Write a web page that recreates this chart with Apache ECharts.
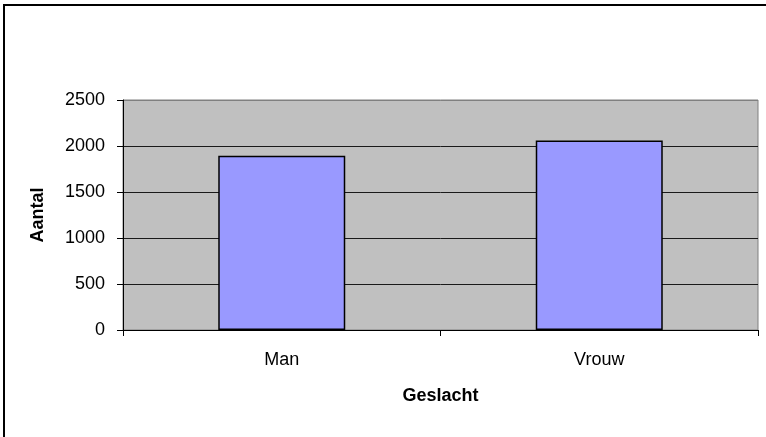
<!DOCTYPE html>
<html>
<head>
<meta charset="utf-8">
<script src="https://cdn.jsdelivr.net/npm/echarts@6/dist/echarts.min.js"></script>
<style>
  html, body { margin: 0; padding: 0; background: #fff; }
  #chart { width: 766px; height: 437px; }
</style>
</head>
<body>
<div id="chart"></div>
<script>
// gegevens
var categories = ["Man", "Vrouw"];
var aantallen = [1895, 2060];
var yTicks = [0, 500, 1000, 1500, 2000, 2500];

var myChart = echarts.init(document.getElementById("chart"));
var font = "'Liberation Sans', Arial, sans-serif";

// splitlines: donker, behalve de bovenste (rand van plotgebied)
var splitColors = yTicks.map(function (v, i) {
  return i === yTicks.length - 1 ? "#808080" : "#1a1a1a";
});

var option = {
  backgroundColor: "#fff",
  animation: false,
  graphic: [
    {
      type: "rect",
      shape: { x: 4, y: 5, width: 800, height: 500 },
      style: { fill: "none", stroke: "#000", lineWidth: 2 },
      z: 100
    }
  ],
  grid: {
    show: true,
    left: 123,
    right: 8,
    top: 100,
    bottom: 107,
    backgroundColor: "#C0C0C0",
    borderColor: "#808080",
    borderWidth: 1
  },
  xAxis: {
    type: "category",
    data: categories,
    name: "Geslacht",
    nameLocation: "middle",
    nameGap: 57,
    nameTextStyle: { fontFamily: font, fontSize: 18, fontWeight: "bold", color: "#000" },
    axisLine: { lineStyle: { color: "#000", width: 1 } },
    axisTick: { show: true, length: 6, lineStyle: { color: "#000" } },
    axisLabel: { fontFamily: font, fontSize: 18, color: "#000", margin: 21 },
    splitLine: { show: false }
  },
  yAxis: {
    type: "value",
    min: 0,
    max: 2500,
    interval: 500,
    name: "Aantal",
    nameLocation: "middle",
    nameGap: 76,
    nameTextStyle: { fontFamily: font, fontSize: 18, fontWeight: "bold", color: "#000" },
    axisLine: { show: true, lineStyle: { color: "#000", width: 1 } },
    axisTick: { show: true, length: 6, lineStyle: { color: "#000" } },
    axisLabel: {
      fontFamily: font, fontSize: 18, color: "#000", margin: 18,
      formatter: function (v) { return String(v); }
    },
    splitLine: { show: true, lineStyle: { color: splitColors, width: 1 } }
  },
  series: [
    {
      type: "bar",
      data: aantallen,
      barWidth: "40%",
      itemStyle: { color: "#9999FF", borderColor: "#000", borderWidth: 1.5 }
    }
  ]
};

myChart.setOption(option);
</script>
</body>
</html>
